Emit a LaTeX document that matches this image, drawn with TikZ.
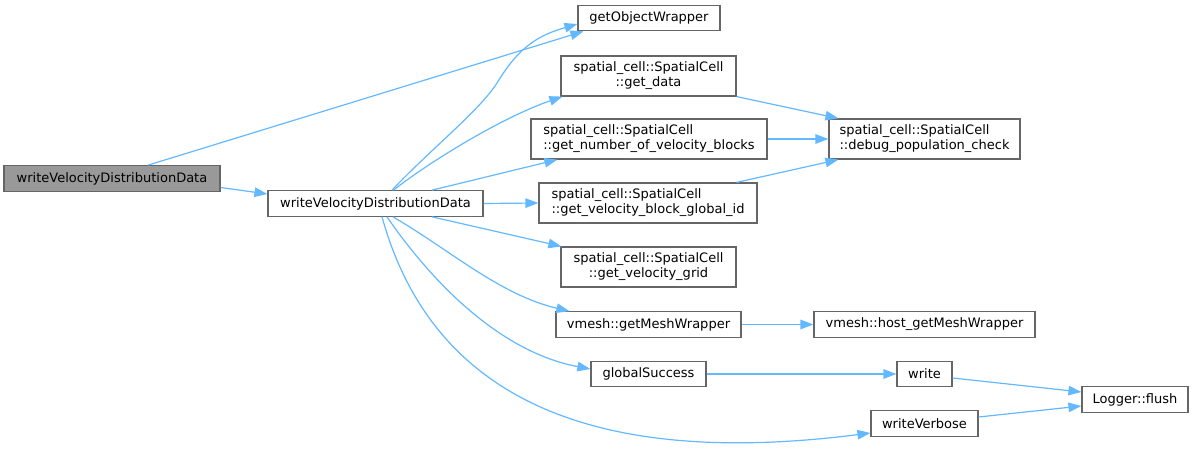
\documentclass[tikz,border=0pt]{standalone}
\usepackage{fontspec}
\setmainfont{DejaVu Sans}
\usetikzlibrary{arrows.meta}
\definecolor{edgeblue}{HTML}{63B8FF}
\definecolor{boxline}{HTML}{666666}
\definecolor{rootfill}{HTML}{999999}
\begin{document}
\begin{tikzpicture}[x=1pt,y=-1pt,
  fn/.style={draw=boxline, line width=1.2pt, fill=white, inner sep=0pt,
    font=\fontsize{13}{15}\selectfont, minimum height=25.5pt},
  fntwo/.style={fn, minimum height=40pt},
  rootbox/.style={fn, fill=rootfill},
  call/.style={draw=edgeblue, line width=1.2pt, -{Triangle[length=13pt,width=9.5pt]}}]
\useasboundingbox (0,0) rectangle (1193,449);

% nodes
\node[rootbox, minimum width=216pt] (root) at (112,178.5) {writeVelocityDistributionData};
\node[fn, minimum width=215pt] (mid) at (375.5,203.5) {writeVelocityDistributionData};
\node[fn, minimum width=142pt] (gow) at (649,18) {getObjectWrapper};
\node[fntwo, minimum width=175pt, align=center] (gd) at (648.5,76) {spatial\_cell::SpatialCell\\::get\_data};
\node[fntwo, minimum width=236pt, align=left] (gnv) at (649,139) {spatial\_cell::SpatialCell\\::get\_number\_of\_velocity\_blocks};
\node[fntwo, minimum width=218pt, align=left] (gbid) at (648,203) {spatial\_cell::SpatialCell\\::get\_velocity\_block\_global\_id};
\node[fntwo, minimum width=175pt, align=center] (gvg) at (648.5,267) {spatial\_cell::SpatialCell\\::get\_velocity\_grid};
\node[fn, minimum width=185pt] (gmw) at (648.5,324.5) {vmesh::getMeshWrapper};
\node[fn, minimum width=115pt] (gs) at (648.5,374) {globalSuccess};
\node[fntwo, minimum width=191pt, align=left] (dpc) at (924.5,139) {spatial\_cell::SpatialCell\\::debug\_population\_check};
\node[fn, minimum width=221pt] (hmw) at (924.5,324.5) {vmesh::host\_getMeshWrapper};
\node[fn, minimum width=55pt] (wr) at (924.5,374) {write};
\node[fn, minimum width=107pt] (wv) at (924.5,423.5) {writeVerbose};
\node[fn, minimum width=106pt] (fl) at (1135,399.5) {Logger::flush};

% edges
\draw[call] ([xshift=36pt]root.north) -- ([xshift=6pt]gow.south west);
\draw[call] ([yshift=-9pt]root.east) -- ([yshift=9.5pt]mid.west);
\draw[call] ([xshift=16.5pt]mid.north) .. controls (430,150) and (480,110) .. (497,83)
  .. controls (520,45) and (540,35) .. ([yshift=-6pt]gow.west);
\draw[call] ([xshift=18pt]mid.north) .. controls (425,165) and (500,118) .. ([xshift=2pt]gd.south west);
\draw[call] ([xshift=56.5pt]mid.north) -- ([xshift=27pt]gnv.south west);
\draw[call] (mid.east) -- (gbid.west);
\draw[call] ([xshift=56.5pt]mid.south) -- ([xshift=1pt]gvg.north west);
\draw[call] ([xshift=17.5pt]mid.south) .. controls (450,250) and (500,295) .. ([xshift=14pt]gmw.north west);
\draw[call] ([xshift=11.5pt]mid.south) .. controls (420,265) and (490,350) .. ([yshift=5pt]gs.west);
\draw[call] ([xshift=6.5pt]mid.south) .. controls (430,390) and (580,470) .. ([yshift=-9.5pt]wv.west);
\draw[call] (gd.south east) -- ([xshift=10pt]dpc.north west);
\draw[call] (gnv.east) -- (dpc.west);
\draw[call] ([xshift=-21pt]gbid.north east) -- ([xshift=10pt]dpc.south west);
\draw[call] (gmw.east) -- (hmw.west);
\draw[call] (gs.east) -- (wr.west);
\draw[call] ([yshift=-4pt]wr.east) -- ([yshift=7.5pt]fl.west);
\draw[call] ([yshift=6.5pt]wv.east) -- ([yshift=-6.5pt]fl.west);
\end{tikzpicture}
\end{document}
